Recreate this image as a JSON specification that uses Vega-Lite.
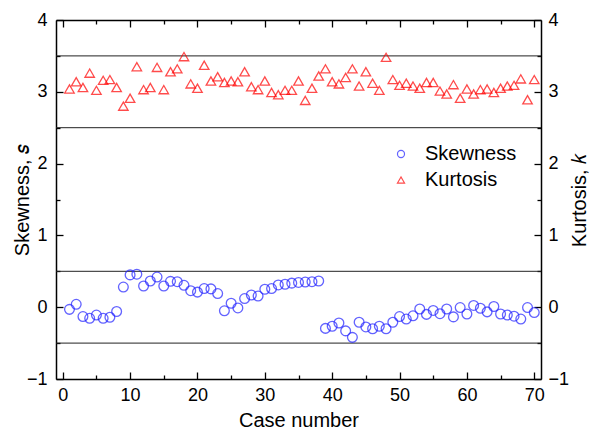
{
  "$schema": "https://vega.github.io/schema/vega-lite/v6.json",
  "width": 485,
  "height": 359,
  "autosize": "none",
  "padding": {"left": 56, "top": 20, "right": 55, "bottom": 54},
  "background": "white",
  "config": {
    "font": "Liberation Sans",
    "view": {"stroke": null},
    "axis": {
      "domainColor": "black",
      "domainWidth": 1.5,
      "tickColor": "black",
      "tickWidth": 1.3,
      "labelColor": "black",
      "labelFontSize": 18,
      "titleColor": "black",
      "titleFontSize": 20,
      "titleFontWeight": "normal",
      "grid": false
    },
    "legend": {"labelFontSize": 20, "labelColor": "black", "symbolSize": 50, "symbolStrokeWidth": 1.2}
  },
  "datasets": {
    "stats": [
      {"case": 1, "measure": "Skewness", "value": -0.03},
      {"case": 2, "measure": "Skewness", "value": 0.04},
      {"case": 3, "measure": "Skewness", "value": -0.13},
      {"case": 4, "measure": "Skewness", "value": -0.155},
      {"case": 5, "measure": "Skewness", "value": -0.11},
      {"case": 6, "measure": "Skewness", "value": -0.155},
      {"case": 7, "measure": "Skewness", "value": -0.14},
      {"case": 8, "measure": "Skewness", "value": -0.06},
      {"case": 9, "measure": "Skewness", "value": 0.28},
      {"case": 10, "measure": "Skewness", "value": 0.45},
      {"case": 11, "measure": "Skewness", "value": 0.46},
      {"case": 12, "measure": "Skewness", "value": 0.295},
      {"case": 13, "measure": "Skewness", "value": 0.365},
      {"case": 14, "measure": "Skewness", "value": 0.42},
      {"case": 15, "measure": "Skewness", "value": 0.295},
      {"case": 16, "measure": "Skewness", "value": 0.36},
      {"case": 17, "measure": "Skewness", "value": 0.355},
      {"case": 18, "measure": "Skewness", "value": 0.305},
      {"case": 19, "measure": "Skewness", "value": 0.23},
      {"case": 20, "measure": "Skewness", "value": 0.21},
      {"case": 21, "measure": "Skewness", "value": 0.26},
      {"case": 22, "measure": "Skewness", "value": 0.255},
      {"case": 23, "measure": "Skewness", "value": 0.19},
      {"case": 24, "measure": "Skewness", "value": -0.05},
      {"case": 25, "measure": "Skewness", "value": 0.055},
      {"case": 26, "measure": "Skewness", "value": -0.01},
      {"case": 27, "measure": "Skewness", "value": 0.12},
      {"case": 28, "measure": "Skewness", "value": 0.17},
      {"case": 29, "measure": "Skewness", "value": 0.155},
      {"case": 30, "measure": "Skewness", "value": 0.25},
      {"case": 31, "measure": "Skewness", "value": 0.26},
      {"case": 32, "measure": "Skewness", "value": 0.31},
      {"case": 33, "measure": "Skewness", "value": 0.32},
      {"case": 34, "measure": "Skewness", "value": 0.335},
      {"case": 35, "measure": "Skewness", "value": 0.345},
      {"case": 36, "measure": "Skewness", "value": 0.35},
      {"case": 37, "measure": "Skewness", "value": 0.355},
      {"case": 38, "measure": "Skewness", "value": 0.365},
      {"case": 39, "measure": "Skewness", "value": -0.295},
      {"case": 40, "measure": "Skewness", "value": -0.265},
      {"case": 41, "measure": "Skewness", "value": -0.22},
      {"case": 42, "measure": "Skewness", "value": -0.33},
      {"case": 43, "measure": "Skewness", "value": -0.42},
      {"case": 44, "measure": "Skewness", "value": -0.21},
      {"case": 45, "measure": "Skewness", "value": -0.275},
      {"case": 46, "measure": "Skewness", "value": -0.3},
      {"case": 47, "measure": "Skewness", "value": -0.265},
      {"case": 48, "measure": "Skewness", "value": -0.3},
      {"case": 49, "measure": "Skewness", "value": -0.21},
      {"case": 50, "measure": "Skewness", "value": -0.13},
      {"case": 51, "measure": "Skewness", "value": -0.165},
      {"case": 52, "measure": "Skewness", "value": -0.12},
      {"case": 53, "measure": "Skewness", "value": -0.025},
      {"case": 54, "measure": "Skewness", "value": -0.1},
      {"case": 55, "measure": "Skewness", "value": -0.045},
      {"case": 56, "measure": "Skewness", "value": -0.09},
      {"case": 57, "measure": "Skewness", "value": -0.025},
      {"case": 58, "measure": "Skewness", "value": -0.135},
      {"case": 59, "measure": "Skewness", "value": -0.005},
      {"case": 60, "measure": "Skewness", "value": -0.095},
      {"case": 61, "measure": "Skewness", "value": 0.025},
      {"case": 62, "measure": "Skewness", "value": -0.015},
      {"case": 63, "measure": "Skewness", "value": -0.065},
      {"case": 64, "measure": "Skewness", "value": 0.01},
      {"case": 65, "measure": "Skewness", "value": -0.095},
      {"case": 66, "measure": "Skewness", "value": -0.11},
      {"case": 67, "measure": "Skewness", "value": -0.125},
      {"case": 68, "measure": "Skewness", "value": -0.165},
      {"case": 69, "measure": "Skewness", "value": -0.005},
      {"case": 70, "measure": "Skewness", "value": -0.075},
      {"case": 1, "measure": "Kurtosis", "value": 3.04},
      {"case": 2, "measure": "Kurtosis", "value": 3.14},
      {"case": 3, "measure": "Kurtosis", "value": 3.06},
      {"case": 4, "measure": "Kurtosis", "value": 3.26},
      {"case": 5, "measure": "Kurtosis", "value": 3.02},
      {"case": 6, "measure": "Kurtosis", "value": 3.16},
      {"case": 7, "measure": "Kurtosis", "value": 3.17},
      {"case": 8, "measure": "Kurtosis", "value": 3.06},
      {"case": 9, "measure": "Kurtosis", "value": 2.8},
      {"case": 10, "measure": "Kurtosis", "value": 2.91},
      {"case": 11, "measure": "Kurtosis", "value": 3.35},
      {"case": 12, "measure": "Kurtosis", "value": 3.03},
      {"case": 13, "measure": "Kurtosis", "value": 3.06},
      {"case": 14, "measure": "Kurtosis", "value": 3.34},
      {"case": 15, "measure": "Kurtosis", "value": 3.03},
      {"case": 16, "measure": "Kurtosis", "value": 3.28},
      {"case": 17, "measure": "Kurtosis", "value": 3.32},
      {"case": 18, "measure": "Kurtosis", "value": 3.49},
      {"case": 19, "measure": "Kurtosis", "value": 3.11},
      {"case": 20, "measure": "Kurtosis", "value": 3.05},
      {"case": 21, "measure": "Kurtosis", "value": 3.37},
      {"case": 22, "measure": "Kurtosis", "value": 3.15},
      {"case": 23, "measure": "Kurtosis", "value": 3.21},
      {"case": 24, "measure": "Kurtosis", "value": 3.13},
      {"case": 25, "measure": "Kurtosis", "value": 3.15},
      {"case": 26, "measure": "Kurtosis", "value": 3.14},
      {"case": 27, "measure": "Kurtosis", "value": 3.28},
      {"case": 28, "measure": "Kurtosis", "value": 3.07},
      {"case": 29, "measure": "Kurtosis", "value": 3.03},
      {"case": 30, "measure": "Kurtosis", "value": 3.15},
      {"case": 31, "measure": "Kurtosis", "value": 2.99},
      {"case": 32, "measure": "Kurtosis", "value": 2.96},
      {"case": 33, "measure": "Kurtosis", "value": 3.02},
      {"case": 34, "measure": "Kurtosis", "value": 3.02},
      {"case": 35, "measure": "Kurtosis", "value": 3.15},
      {"case": 36, "measure": "Kurtosis", "value": 2.88},
      {"case": 37, "measure": "Kurtosis", "value": 3.05},
      {"case": 38, "measure": "Kurtosis", "value": 3.22},
      {"case": 39, "measure": "Kurtosis", "value": 3.32},
      {"case": 40, "measure": "Kurtosis", "value": 3.14},
      {"case": 41, "measure": "Kurtosis", "value": 3.11},
      {"case": 42, "measure": "Kurtosis", "value": 3.2},
      {"case": 43, "measure": "Kurtosis", "value": 3.32},
      {"case": 44, "measure": "Kurtosis", "value": 3.08},
      {"case": 45, "measure": "Kurtosis", "value": 3.28},
      {"case": 46, "measure": "Kurtosis", "value": 3.12},
      {"case": 47, "measure": "Kurtosis", "value": 3.02},
      {"case": 48, "measure": "Kurtosis", "value": 3.48},
      {"case": 49, "measure": "Kurtosis", "value": 3.17},
      {"case": 50, "measure": "Kurtosis", "value": 3.09},
      {"case": 51, "measure": "Kurtosis", "value": 3.12},
      {"case": 52, "measure": "Kurtosis", "value": 3.08},
      {"case": 53, "measure": "Kurtosis", "value": 3.05},
      {"case": 54, "measure": "Kurtosis", "value": 3.13},
      {"case": 55, "measure": "Kurtosis", "value": 3.13},
      {"case": 56, "measure": "Kurtosis", "value": 3.01},
      {"case": 57, "measure": "Kurtosis", "value": 2.97},
      {"case": 58, "measure": "Kurtosis", "value": 3.1},
      {"case": 59, "measure": "Kurtosis", "value": 2.91},
      {"case": 60, "measure": "Kurtosis", "value": 3.04},
      {"case": 61, "measure": "Kurtosis", "value": 2.97},
      {"case": 62, "measure": "Kurtosis", "value": 3.03},
      {"case": 63, "measure": "Kurtosis", "value": 3.04},
      {"case": 64, "measure": "Kurtosis", "value": 2.99},
      {"case": 65, "measure": "Kurtosis", "value": 3.05},
      {"case": 66, "measure": "Kurtosis", "value": 3.08},
      {"case": 67, "measure": "Kurtosis", "value": 3.09},
      {"case": 68, "measure": "Kurtosis", "value": 3.18},
      {"case": 69, "measure": "Kurtosis", "value": 2.89},
      {"case": 70, "measure": "Kurtosis", "value": 3.17}
    ],
    "bands": [
      {"level": -0.5},
      {"level": 0.5},
      {"level": 2.5},
      {"level": 3.5}
    ]
  },
  "resolve": {"axis": {"x": "independent", "y": "independent"}},
  "layer": [
    {
      "data": {"name": "bands"},
      "mark": {"type": "rule", "color": "#222222", "strokeWidth": 1},
      "encoding": {
        "y": {
          "field": "level",
          "type": "quantitative",
          "scale": {"domain": [-1, 4], "nice": false, "zero": false},
          "axis": {
            "orient": "left",
            "title": "Skewness, 𝑠",
            "titleAngle": 270,
            "titleX": -34,
            "titleBaseline": "middle",
            "values": [-1, -0.5, 0, 0.5, 1, 1.5, 2, 2.5, 3, 3.5, 4],
            "format": "~g",
            "labelExpr": "datum.value % 1 === 0 ? datum.label : ''",
            "tickSize": {"condition": {"test": "datum.value % 1 !== 0", "value": -4}, "value": -7},
            "labelPadding": 16
          }
        }
      }
    },
    {
      "mark": {"type": "rule", "color": "#ff0000", "strokeWidth": 1},
      "encoding": {"y": {"datum": 3, "type": "quantitative", "axis": null}}
    },
    {
      "mark": {"type": "rule", "color": "#3333ff", "strokeWidth": 1},
      "encoding": {"y": {"datum": 0, "type": "quantitative", "axis": null}}
    },
    {
      "data": {"name": "stats"},
      "transform": [{"filter": "datum.measure === 'Skewness'"}],
      "mark": {"type": "point", "filled": false, "size": 95, "strokeWidth": 1.3},
      "encoding": {
        "x": {
          "field": "case",
          "type": "quantitative",
          "scale": {"domain": [-1, 71], "nice": false, "zero": false},
          "axis": {
            "orient": "bottom",
            "title": "Case number",
            "titlePadding": 6,
            "values": [0, 5, 10, 15, 20, 25, 30, 35, 40, 45, 50, 55, 60, 65, 70],
            "labelExpr": "datum.value % 10 === 0 ? datum.label : ''",
            "tickSize": {"condition": {"test": "datum.value % 10 !== 0", "value": -4}, "value": -7},
            "labelPadding": 14
          }
        },
        "y": {"field": "value", "type": "quantitative", "axis": null},
        "color": {
          "field": "measure",
          "type": "nominal",
          "scale": {"domain": ["Skewness", "Kurtosis"], "range": ["#2222ff", "#ff0000"]},
          "legend": {"title": null, "orient": "none", "legendX": 335, "legendY": 124, "labelOffset": 14, "rowPadding": 6}
        },
        "shape": {
          "field": "measure",
          "type": "nominal",
          "scale": {"domain": ["Skewness", "Kurtosis"], "range": ["circle", "triangle-up"]},
          "legend": {"title": null, "orient": "none", "legendX": 335, "legendY": 124, "labelOffset": 14, "rowPadding": 6}
        }
      }
    },
    {
      "data": {"name": "stats"},
      "transform": [{"filter": "datum.measure === 'Kurtosis'"}],
      "mark": {"type": "point", "filled": false, "size": 90, "strokeWidth": 1.3},
      "encoding": {
        "x": {
          "field": "case",
          "type": "quantitative",
          "axis": {
            "orient": "top",
            "title": null,
            "labels": false,
            "values": [0, 5, 10, 15, 20, 25, 30, 35, 40, 45, 50, 55, 60, 65, 70],
            "tickSize": {"condition": {"test": "datum.value % 10 !== 0", "value": -4}, "value": -7}
          }
        },
        "y": {
          "field": "value",
          "type": "quantitative",
          "axis": {
            "orient": "right",
            "title": "Kurtosis, 𝑘",
            "titleAngle": 270,
            "titleX": 38,
            "titleBaseline": "middle",
            "values": [-1, -0.5, 0, 0.5, 1, 1.5, 2, 2.5, 3, 3.5, 4],
            "format": "~g",
            "labelExpr": "datum.value % 1 === 0 ? datum.label : ''",
            "tickSize": {"condition": {"test": "datum.value % 1 !== 0", "value": -4}, "value": -7},
            "labelPadding": 14
          }
        },
        "color": {"field": "measure", "type": "nominal"},
        "shape": {"field": "measure", "type": "nominal"}
      }
    }
  ]
}
